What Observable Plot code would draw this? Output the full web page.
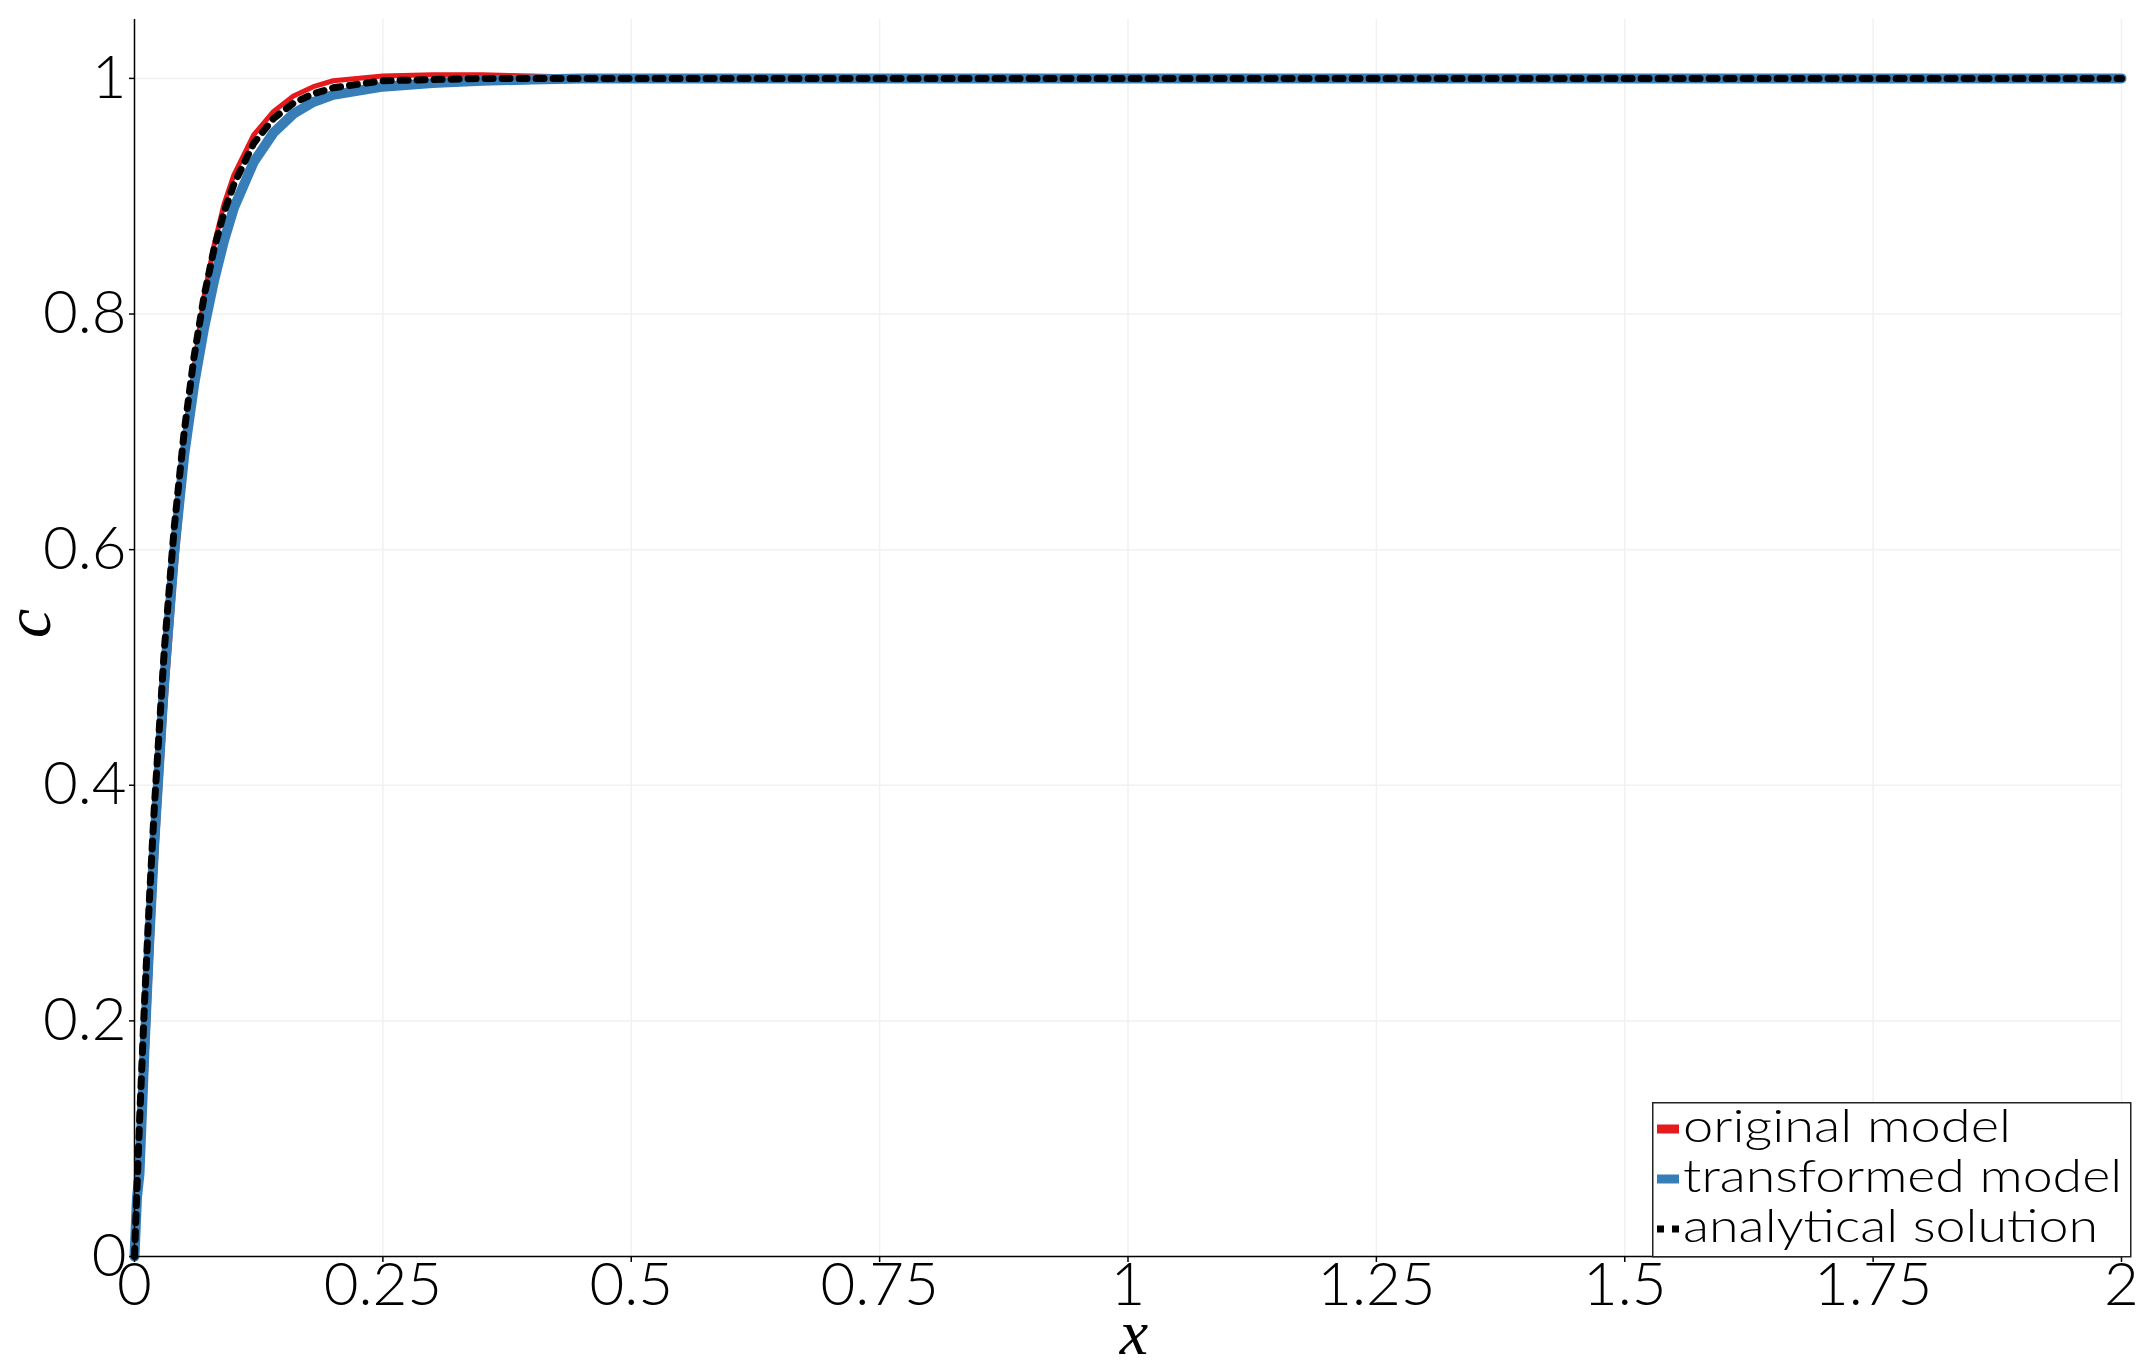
<!DOCTYPE html>
<html><head><meta charset="utf-8">
<script src="https://cdn.jsdelivr.net/npm/d3@7"></script>
<script src="https://cdn.jsdelivr.net/npm/@observablehq/plot@0.6"></script>
<style>
body{margin:0;background:#fff;}
#wrap{position:relative;width:2150px;height:1366px;overflow:hidden;}
#legend{position:absolute;left:1652px;top:1092px;}
</style></head><body><div id="wrap"></div>
<script>
const xValues = [0, 0.0025, 0.005, 0.01, 0.015, 0.02, 0.03, 0.04, 0.05, 0.06, 0.07, 0.08, 0.09, 0.1, 0.12, 0.14, 0.16, 0.18, 0.2, 0.25, 0.3, 0.35, 0.4, 0.45, 0.5, 0.75, 1, 1.25, 1.5, 1.75, 2];
const originalModel = [0, 0.03, 0.06, 0.135, 0.23, 0.32, 0.46, 0.575, 0.668, 0.755, 0.815, 0.858, 0.893, 0.918, 0.952, 0.972, 0.985, 0.993, 0.998, 1.002, 1.003, 1.003, 1.002, 1.001, 1.0, 1, 1, 1, 1, 1, 1];
const transformedModel = [0, 0.05, 0.07, 0.175, 0.27, 0.352, 0.49, 0.598, 0.68, 0.74, 0.788, 0.828, 0.862, 0.89, 0.929, 0.954, 0.970, 0.980, 0.986, 0.993, 0.996, 0.998, 0.999, 1, 1, 1, 1, 1, 1, 1, 1];
const analyticalSolution = [0, 0.058, 0.113, 0.214, 0.303, 0.382, 0.515, 0.619, 0.700, 0.764, 0.815, 0.855, 0.886, 0.910, 0.945, 0.966, 0.979, 0.987, 0.992, 0.998, 0.999, 1, 1, 1, 1, 1, 1, 1, 1, 1, 1];
const xTicks = [0, 0.25, 0.5, 0.75, 1, 1.25, 1.5, 1.75, 2];
const xTickLabels = ["0", "0.25", "0.5", "0.75", "1", "1.25", "1.5", "1.75", "2"];
const yTicks = [0, 0.2, 0.4, 0.6, 0.8, 1];
const yTickLabels = ["0", "0.2", "0.4", "0.6", "0.8", "1"];
const seriesNames = ["original model", "transformed model", "analytical solution"];
const seriesColors = ["#e41a1c", "#377eb8", "#000000"];
const xLabel = "x";
const yLabel = "c";

const toRows = vals => xValues.map((x, i) => ({x, c: vals[i]}));
const sansFont = "Lato, 'Noto Sans', sans-serif";
const mathFont = "'Liberation Serif', 'DejaVu Serif', serif";

const plot = Plot.plot({
  width: 2150, height: 1366,
  marginLeft: 134, marginRight: 29, marginTop: 19, marginBottom: 110,
  x: {domain: [0, 2]},
  y: {domain: [0, 1.05]},
  style: {fontFamily: sansFont, fontWeight: 300, background: "white", color: "black"},
  marks: [
    Plot.gridX(xTicks, {stroke: "#f1f1f1", strokeOpacity: 1, strokeWidth: 1.5}),
    Plot.gridY(yTicks, {stroke: "#f1f1f1", strokeOpacity: 1, strokeWidth: 1.5}),
    Plot.line(toRows(originalModel), {x: "x", y: "c", stroke: seriesColors[0], strokeWidth: 5}),
    Plot.line(toRows(transformedModel), {x: "x", y: "c", stroke: seriesColors[1], strokeWidth: 10}),
    Plot.line(toRows(analyticalSolution), {x: "x", y: "c", stroke: seriesColors[2], strokeWidth: 7, strokeDasharray: "8,9"}),
    Plot.ruleX([0], {stroke: "black", strokeWidth: 1.5}),
    Plot.ruleY([0], {stroke: "black", strokeWidth: 1.5}),
    Plot.axisX(xTicks, {tickFormat: d => xTickLabels[xTicks.indexOf(d)], fontSize: 60, fontWeight: 300, tickSize: 6, tickPadding: 0, label: null, strokeWidth: 1.5}),
    Plot.axisY(yTicks, {tickFormat: d => yTickLabels[yTicks.indexOf(d)], fontSize: 60, fontWeight: 300, tickSize: 5, tickPadding: 3, label: null, strokeWidth: 1.5}),
    Plot.text([xLabel], {text: d => d, frameAnchor: "bottom", dy: 77, dx: 6, lineAnchor: "middle", fontSize: 64, fontStyle: "italic", fontFamily: mathFont, fill: "black"}),
    Plot.text([yLabel], {text: d => d, frameAnchor: "left", dx: -106, rotate: -90, lineAnchor: "middle", fontSize: 66, fontStyle: "italic", fontFamily: mathFont, fill: "black"})
  ]
});

const wrap = document.getElementById("wrap");
wrap.appendChild(plot);

// Legend overlay (inside the plot area, bottom right); 10px headroom above the box
const lg = d3.create("svg").attr("id", "legend").attr("width", 481).attr("height", 166);
const g = lg.append("g").attr("transform", "translate(0,10)");
g.append("rect").attr("x", 0.75).attr("y", 0.75).attr("width", 478).attr("height", 154)
  .attr("fill", "white").attr("stroke", "#222").attr("stroke-width", 1.5);
const textWidths = [328, 439, 415];
seriesNames.forEach((name, i) => {
  const cy = 27 + 50 * i;
  const sw = g.append("line").attr("x1", 5).attr("x2", 27).attr("y1", cy).attr("y2", cy)
    .attr("stroke", seriesColors[i]).attr("stroke-width", i === 2 ? 7 : 9);
  if (i === 2) sw.attr("stroke-dasharray", "7,8");
  g.append("text").attr("x", 31).attr("y", 40 + 50 * i)
    .attr("font-family", sansFont).attr("font-weight", 300).attr("font-size", 45)
    .attr("textLength", textWidths[i]).attr("lengthAdjust", "spacingAndGlyphs")
    .attr("fill", "black").text(name);
});
wrap.appendChild(lg.node());
</script>
</body></html>
